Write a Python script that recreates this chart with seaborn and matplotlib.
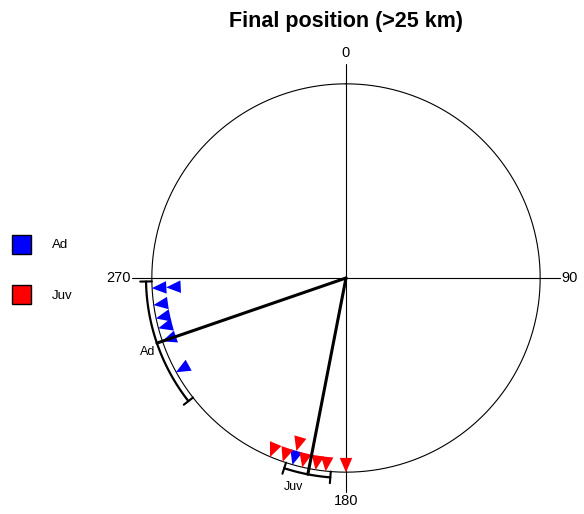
"""
Circular plot of final positions (>25 km) for adults and juveniles.
Saves the figure as out.png
"""

import numpy as np
import pandas as pd
import matplotlib

matplotlib.use("Agg")
import matplotlib.pyplot as plt
import matplotlib.patches as mpatches
import matplotlib.path as mpath
from matplotlib.markers import MarkerStyle
from matplotlib.transforms import Affine2D
import seaborn as sns

# ------------------------------#
# Data (compass degrees: 0 at top, clockwise)
ad_angles = [267, 267, 262, 258, 255, 251, 241, 196]
juv_angles = [203, 199, 196, 193, 189, 186, 180]

groups = ["Ad", "Juv"]
group_colors = ["blue", "red"]

# mean vector direction and 95% confidence limits per group
mean_angles = [251, 191]
ci_low = [232, 184.5]
ci_high = [269, 198]

axis_angles = [0, 90, 180, 270]
axis_labels = ["0", "90", "180", "270"]

# ------------------------------#
# Global settings
sns.set_theme(style="white")
plt.rcParams["font.family"] = ["Liberation Sans", "DejaVu Sans"]
plt.rcParams["text.color"] = "black"

# Build the points table; repeated angles are stacked inwards
rows = []
count = {}
for grp, angles in zip(groups, [ad_angles, juv_angles]):
    for a in angles:
        level = count.get(a, 0)
        count[a] = level + 1
        rows.append({"group": grp, "angle": a, "level": level})
pts = pd.DataFrame(rows)
pts["theta"] = np.deg2rad(pts["angle"])
pts["r"] = 0.964 - 0.074 * pts["level"]
pts["marker"] = pts["angle"].astype(str)

# narrow triangle pointing up, rotated so that it points outwards
tri = mpath.Path([(0, 0.5), (-0.43, -0.5), (0.43, -0.5), (0, 0.5)], closed=True)
markers = {
    str(a): MarkerStyle(tri, transform=Affine2D().rotate_deg(-a))
    for a in pts["angle"].unique()
}

# ------------------------------#
fig = plt.figure(figsize=(5.84, 5.14), dpi=100)
ax = fig.add_axes([113 / 584, 3 / 514, 466 / 584, 466 / 514], projection="polar")
ax.set_theta_zero_location("N")
ax.set_theta_direction(-1)
ax.set_ylim(0, 1.2)
ax.set_axis_off()

# Outer circle and the cross
th = np.linspace(0, 2 * np.pi, 721)
ax.plot(th, np.ones_like(th), color="black", lw=0.8)
for a in axis_angles:
    ax.plot([np.deg2rad(a)] * 2, [0, 1.1], color="black", lw=0.8)

# Direction labels
ax.text(np.deg2rad(0), 1.125, axis_labels[0], ha="center", va="bottom", fontsize=10.5)
ax.text(np.deg2rad(90), 1.11, axis_labels[1], ha="left", va="center", fontsize=10.5)
ax.text(np.deg2rad(180), 1.11, axis_labels[2], ha="center", va="top", fontsize=10.5)
ax.text(np.deg2rad(270), 1.11, axis_labels[3], ha="right", va="center", fontsize=10.5)

# Data points
sns.scatterplot(
    data=pts,
    x="theta",
    y="r",
    hue="group",
    palette=dict(zip(groups, group_colors)),
    style="marker",
    markers=markers,
    s=110,
    linewidth=0,
    legend=False,
    ax=ax,
    zorder=3,
)

# Mean vectors and confidence arcs
r_arc = 1.03
for grp, m, lo, hi in zip(groups, mean_angles, ci_low, ci_high):
    ax.plot([np.deg2rad(m)] * 2, [0, r_arc], color="black", lw=2.2, zorder=4)
    arc = np.deg2rad(np.linspace(lo, hi, 60))
    ax.plot(arc, np.full_like(arc, r_arc), color="black", lw=1.6, zorder=4)
    for e in [lo, hi]:
        ax.plot([np.deg2rad(e)] * 2, [r_arc - 0.03, r_arc + 0.03], color="black", lw=1.5)

ax.text(np.deg2rad(249.6), 1.09, "Ad", ha="center", va="center", fontsize=9)
ax.text(np.deg2rad(194.2), 1.11, "Juv", ha="center", va="center", fontsize=9)

# Title
fig.text(346 / 584, 1 - 21 / 514, "Final position (>25 km)", ha="center",
         va="center", fontsize=15.5, fontweight="bold")

# Legend
handles = [
    mpatches.Patch(facecolor=c, edgecolor="black", label=g)
    for g, c in zip(groups, group_colors)
]
fig.legend(
    handles=handles,
    loc="upper left",
    bbox_to_anchor=(0.0, 1 - 223 / 514),
    frameon=False,
    fontsize=9.5,
    handlelength=1.45,
    handleheight=1.8,
    labelspacing=2.4,
    handletextpad=1.6,
    borderpad=0.4,
)

fig.savefig("out.png", dpi=100)
